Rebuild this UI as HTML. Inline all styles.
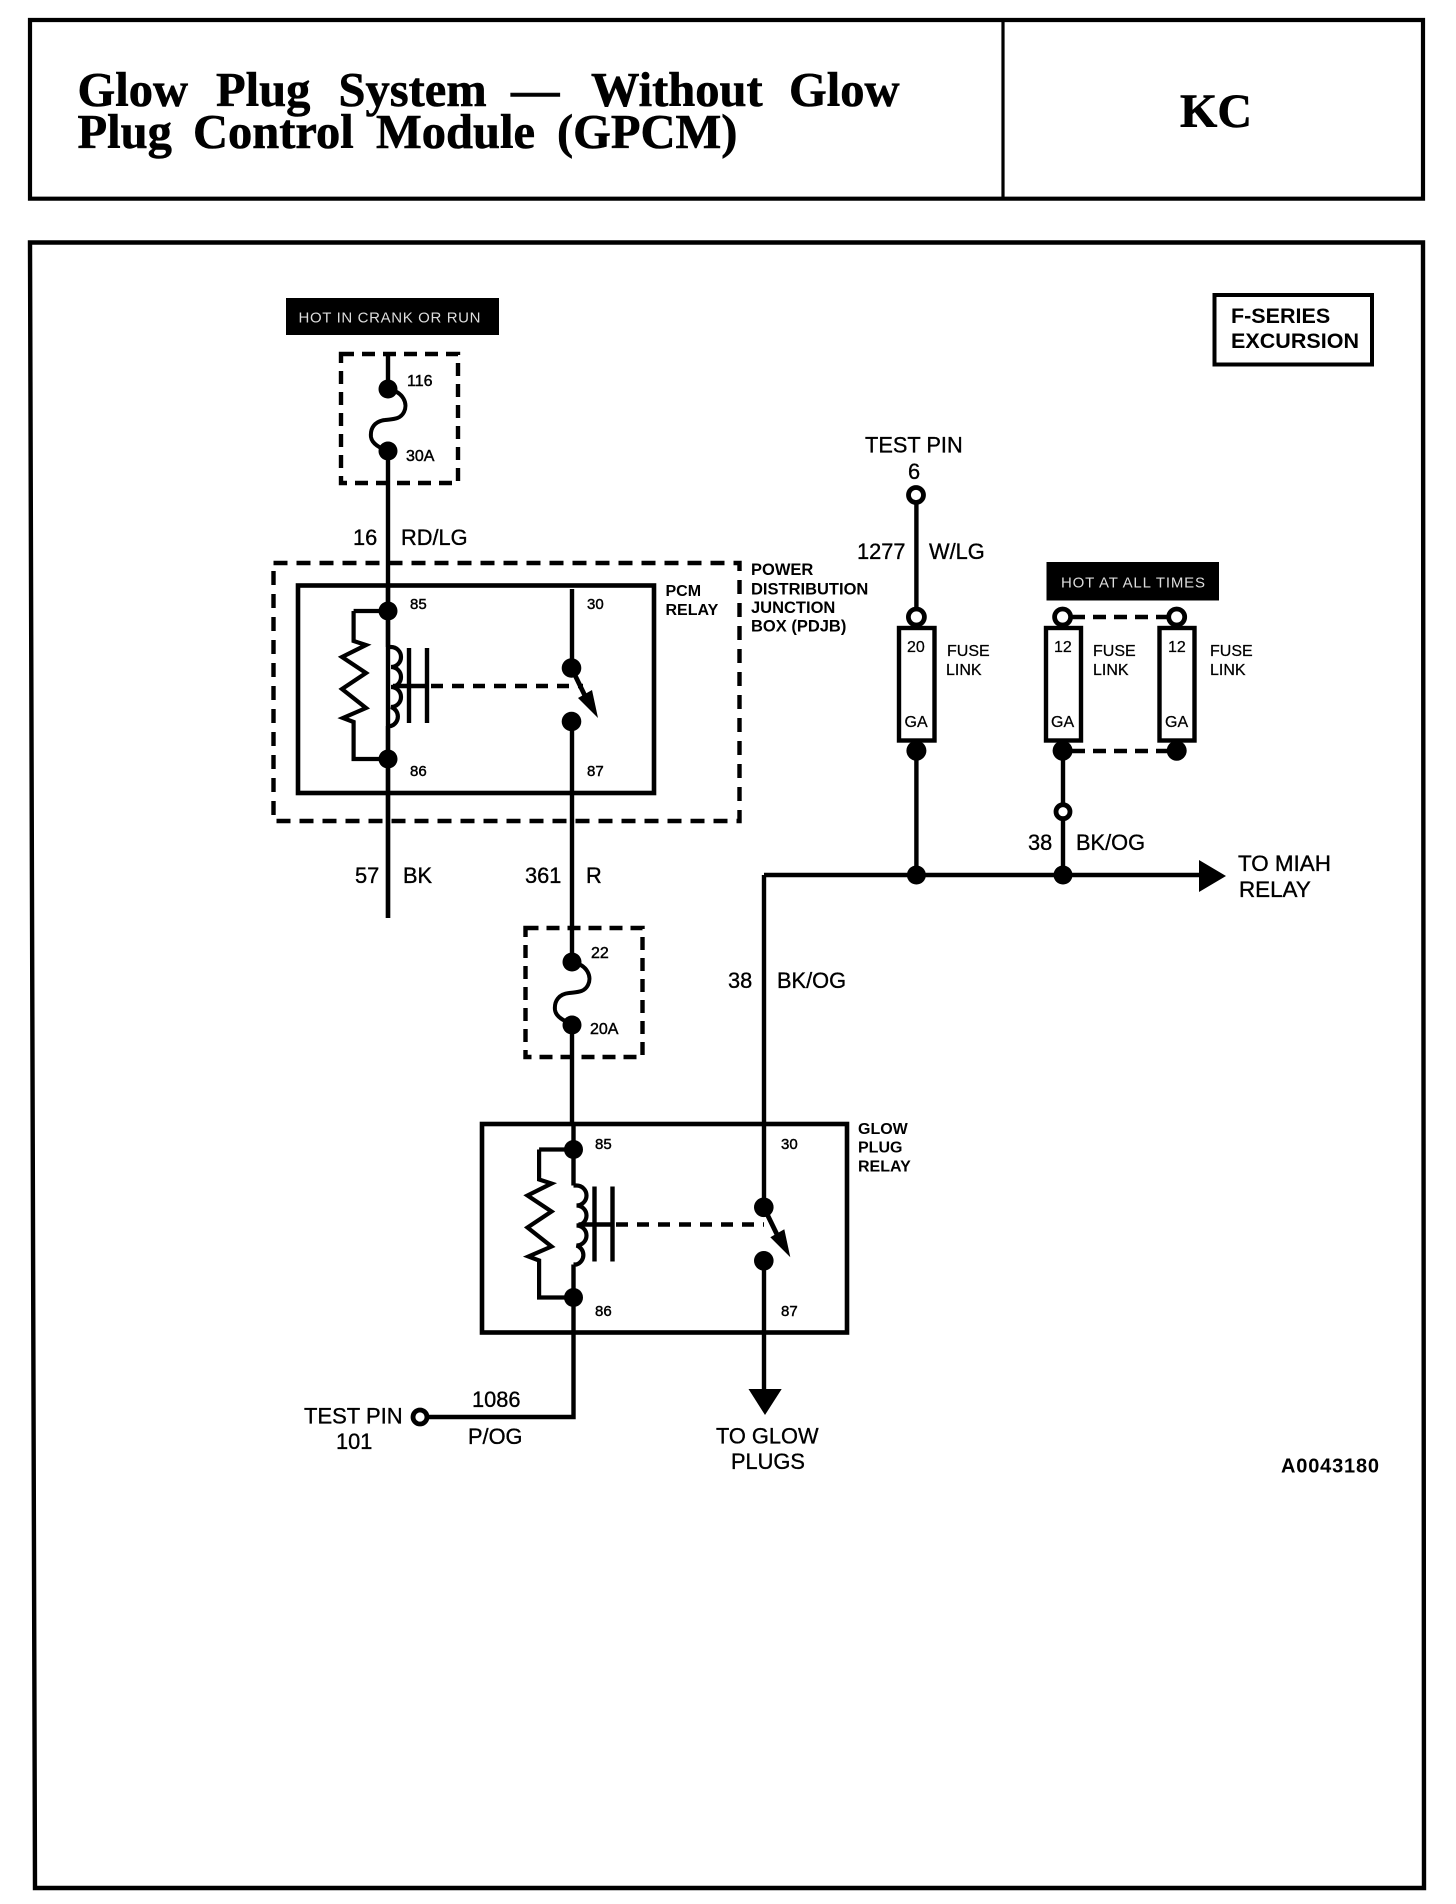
<!DOCTYPE html>
<html><head><meta charset="utf-8"><title>Glow Plug System</title>
<style>
html,body{margin:0;padding:0;background:#fff;width:1456px;height:1904px;overflow:hidden}
svg{display:block}
text{font-family:"Liberation Sans",sans-serif;fill:#000}
.t{font-family:"Liberation Serif",serif;font-weight:bold;font-size:48.5px;stroke:#000;stroke-width:.6px}
.m{font-size:21.8px;stroke:#000;stroke-width:.35px}
.s{font-size:15px;stroke:#000;stroke-width:.45px}
.a{font-size:16px;stroke:#000;stroke-width:.45px}
.b{font-size:16px;font-weight:bold}
.p{font-size:16.5px;font-weight:bold}
.f{font-size:16px;stroke:#000;stroke-width:.25px}
.w{fill:#ddd;font-size:15px}
.l{fill:none;stroke:#000;stroke-width:4.4}
.n{fill:none;stroke:#000;stroke-width:4.2}
.d{fill:none;stroke:#000;stroke-width:4.4;stroke-dasharray:14 9}
.o{fill:#fff;stroke:#000;stroke-width:4.8}
</style></head><body>
<svg width="1456" height="1904" viewBox="0 0 1456 1904" xmlns="http://www.w3.org/2000/svg">
<defs>
<g id="coil">
  <path class="n" d="M353.6 611V641L366 645L342 657L366 673L342 689L366 708L343 718L353.6 722V759H388"/>
  <path class="n" d="M353.6 611H388"/>
  <path class="l" d="M388 611V647"/>
  <path class="n" d="M388 647H391A10 10 0 0 1 391 667A10 10 0 0 1 391 687A10 10 0 0 1 391 707A10 10 0 0 1 391 726H388"/>
  <path class="l" d="M388 726V759"/>
  <path class="l" d="M409 648V723M427 648V723M393 686H427"/>
  <circle cx="388" cy="611" r="9.5"/><circle cx="388" cy="759" r="9.5"/>
</g>
<g id="sw">
  <circle cx="571.5" cy="668" r="9.8"/><circle cx="571.5" cy="721.5" r="9.8"/>
  <path class="l" d="M571.5 668L588 702" style="stroke-width:4.8"/>
  <polygon points="598,718 578,698 592,690"/>
</g>
<path id="fs" d="M388 389C404 392 408 404 404 412C400 420 392 419 385 420C375 421 370 428 371 437C372 444 380 448 388 451" fill="none" stroke="#000" stroke-width="4"/>
</defs>

<!-- frames -->
<path d="M30 20H1423V198.7H30Z" fill="none" stroke="#000" stroke-width="4.2"/>
<path d="M1003 20V198" stroke="#000" stroke-width="3.2"/>
<path d="M30 242.5H1423L1424 1888H35Z" fill="none" stroke="#000" stroke-width="4.4"/>

<text class="t" y="106"><tspan x="77.5">Glow</tspan><tspan x="216">Plug</tspan><tspan x="338.5">System</tspan><tspan x="511">—</tspan><tspan x="591">Without</tspan><tspan x="789">Glow</tspan></text>
<text class="t" y="148"><tspan x="77.5">Plug</tspan><tspan x="193">Control</tspan><tspan x="376">Module</tspan><tspan x="557">(GPCM)</tspan></text>
<text class="t" x="1180" y="127" style="font-size:48px">KC</text>

<!-- labels black -->
<rect x="286" y="298" width="213" height="37"/>
<text class="w" x="298.5" y="322.5" textLength="182" lengthAdjust="spacing">HOT IN CRANK OR RUN</text>
<rect x="1046.5" y="562" width="172.5" height="38.5"/>
<text class="w" x="1061" y="587.5" textLength="144" lengthAdjust="spacing">HOT AT ALL TIMES</text>

<!-- F-series -->
<rect x="1214.5" y="295" width="157.5" height="69.5" fill="none" stroke="#000" stroke-width="4"/>
<text x="1231" y="323" font-size="21.5" font-weight="bold">F-SERIES</text>
<text x="1231" y="348" font-size="21.5" font-weight="bold" textLength="128">EXCURSION</text>

<!-- left chain wire -->
<path class="l" d="M388 354V389M388 451V918"/>
<use href="#fs"/>
<circle cx="388" cy="389" r="9.5"/><circle cx="388" cy="451" r="9.5"/>
<rect x="341" y="354" width="117" height="129" class="d" style="stroke-dasharray:13 8"/>
<text class="a" x="407" y="386">116</text>
<text class="a" x="406" y="461">30A</text>
<text class="m" x="353" y="545">16</text>
<text class="m" x="401" y="545">RD/LG</text>

<!-- PDJB -->
<rect x="273.5" y="563" width="466" height="258" class="d"/>
<rect x="298" y="585.5" width="356" height="207.5" fill="none" stroke="#000" stroke-width="4.6"/>
<path class="l" d="M388 585V611M388 759V918"/>
<use href="#coil"/>
<path class="l" d="M572 589V668M572 721V968"/>
<use href="#sw"/>
<path class="d" d="M431 686H583" style="stroke-dasharray:12 9"/>
<text class="s" x="410" y="609">85</text>
<text class="s" x="587" y="609">30</text>
<text class="s" x="410" y="776">86</text>
<text class="s" x="587" y="776">87</text>
<text class="b" x="665.5" y="596">PCM</text>
<text class="b" x="665.5" y="615">RELAY</text>
<text class="p" x="751" y="575">POWER</text>
<text class="p" x="751" y="594.5">DISTRIBUTION</text>
<text class="p" x="751" y="613">JUNCTION</text>
<text class="p" x="751" y="631.5">BOX (PDJB)</text>
<text class="m" x="355" y="883">57</text>
<text class="m" x="403" y="883">BK</text>
<text class="m" x="525" y="883">361</text>
<text class="m" x="586" y="883">R</text>

<!-- fuse 22 -->
<rect x="525.5" y="928" width="117" height="129" class="d" style="stroke-dasharray:13 8"/>
<use href="#fs" transform="translate(184 573)"/>
<circle cx="572" cy="962" r="9.5"/><circle cx="572" cy="1025" r="9.5"/>
<text class="a" x="591" y="958">22</text>
<text class="a" x="590" y="1034">20A</text>

<!-- Glow relay -->
<path class="l" d="M572 1025V1124M573.5 1124V1150M573.5 1298V1417H426"/>
<rect x="482" y="1124" width="365" height="208.5" fill="none" stroke="#000" stroke-width="4.6"/>
<use href="#coil" transform="translate(185.5 538.5)"/>
<path class="d" d="M616 1224.5H764" style="stroke-dasharray:12 9"/>
<path class="l" d="M764 875V1207M764 1260V1392"/>
<use href="#sw" transform="translate(192.3 539.3)"/>
<polygon points="748.5,1389 781.7,1389 765,1415"/>
<circle cx="420" cy="1417" r="7" class="o"/>
<text class="s" x="595" y="1149">85</text>
<text class="s" x="781" y="1149">30</text>
<text class="s" x="595" y="1316">86</text>
<text class="s" x="781" y="1316">87</text>
<text class="b" x="858" y="1134">GLOW</text>
<text class="b" x="858" y="1152.5">PLUG</text>
<text class="b" x="858" y="1171.5">RELAY</text>
<text class="m" x="728" y="988">38</text>
<text class="m" x="777" y="988">BK/OG</text>
<text class="m" x="304" y="1423.5" style="font-size:22px">TEST PIN</text>
<text class="m" x="336" y="1449">101</text>
<text class="m" x="472" y="1407">1086</text>
<text class="m" x="468" y="1444">P/OG</text>
<text class="m" x="716" y="1443.5">TO GLOW</text>
<text class="m" x="731" y="1469">PLUGS</text>
<text x="1281" y="1472.5" font-size="20" font-weight="bold" textLength="98">A0043180</text>

<!-- right part -->
<path class="l" d="M764 875H1200M916.4 503V617M916.4 751V875M1063 751V811M1063 811V875"/>
<polygon points="1199,860 1226,876 1199,892"/>
<circle cx="916.4" cy="875" r="9.5"/><circle cx="1063" cy="875" r="9.5"/>
<circle cx="916" cy="495" r="7.5" class="o"/>
<circle cx="916.4" cy="617" r="8" class="o"/>
<circle cx="1062.6" cy="617" r="8" class="o"/>
<circle cx="1176.7" cy="617" r="8" class="o"/>
<circle cx="1063" cy="811.7" r="7" class="o"/>
<path class="d" d="M1072 617H1168" style="stroke-dasharray:13 8"/>
<path class="d" d="M1072 751H1168" style="stroke-dasharray:13 8"/>
<rect x="899" y="628" width="35.5" height="112.5" fill="#fff" stroke="#000" stroke-width="4.4"/>
<rect x="1046" y="628" width="35" height="112.5" fill="#fff" stroke="#000" stroke-width="4.4"/>
<rect x="1159.5" y="628" width="35" height="112.5" fill="#fff" stroke="#000" stroke-width="4.4"/>
<circle cx="916.4" cy="750.7" r="10"/><circle cx="1062.6" cy="750.7" r="10"/><circle cx="1176.7" cy="750.7" r="10"/>
<text class="m" x="865" y="452.5">TEST PIN</text>
<text class="m" x="908" y="479">6</text>
<text class="m" x="857" y="559">1277</text>
<text class="m" x="929" y="559">W/LG</text>
<text class="m" x="1028" y="850">38</text>
<text class="m" x="1076" y="850">BK/OG</text>
<text class="m" x="1238" y="871" style="font-size:22.4px">TO MIAH</text>
<text class="m" x="1239" y="897" style="font-size:22.4px">RELAY</text>
<text class="f" x="907" y="652">20</text>
<text class="f" x="904.5" y="727">GA</text>
<text class="f" x="1054" y="652">12</text>
<text class="f" x="1051" y="727">GA</text>
<text class="f" x="1168" y="652">12</text>
<text class="f" x="1165" y="727">GA</text>
<text class="f" x="947" y="656">FUSE</text>
<text class="f" x="946" y="675">LINK</text>
<text class="f" x="1093" y="656">FUSE</text>
<text class="f" x="1093" y="675">LINK</text>
<text class="f" x="1210" y="656">FUSE</text>
<text class="f" x="1210" y="675">LINK</text>
</svg>
</body></html>
